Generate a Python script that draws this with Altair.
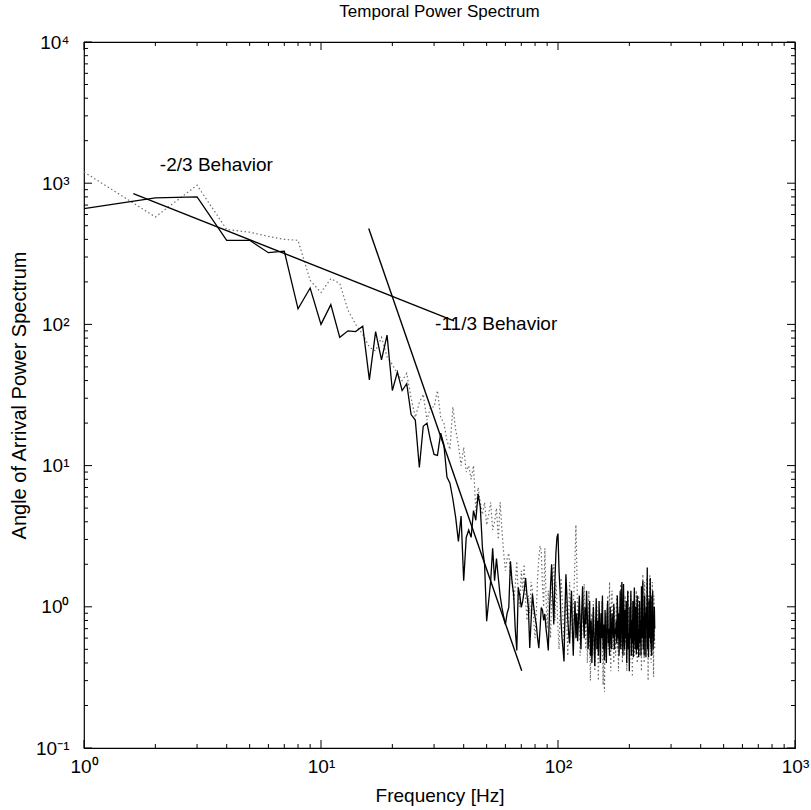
import altair as alt
import pandas as pd

TITLE = "Temporal Power Spectrum"
X_TITLE = "Frequency [Hz]"
Y_TITLE = "Angle of Arrival Power Spectrum"
FONT = "Liberation Sans"

# solid spectrum, one value per Hz starting at 1 Hz
solid_vals = [
    660, 787, 800, 394, 394, 322, 330, 129, 181, 100,
    138, 81, 90, 89, 97, 40.5, 89, 56, 84, 34,
    46, 34, 38, 23, 21, 9.7, 19, 20, 15, 12,
    11.8, 17, 14, 8.3, 7.5, 5.8, 4.3, 2.9, 4.4, 1.53,
    3.1, 3.5, 3.1, 4.8, 4.1, 6.3, 5.1, 2.6, 2.0, 0.79,
    1.1, 1.53, 2.6, 1.53, 2.2, 1.6, 1.2, 0.99, 0.85, 0.75,
    0.9, 0.99, 2.1, 1.5, 1.23, 0.7, 0.49, 1.37, 1.2, 0.99,
    1.1, 1.3, 1.6, 1.2, 0.99, 0.51, 0.8, 1.23, 1.0, 0.85,
    0.75, 0.6, 0.51, 0.7, 0.99, 0.95, 0.8, 0.89, 0.7, 0.6,
    0.49, 0.9, 1.4, 2.0, 1.2, 0.75, 1.5, 2.4, 3.1, 3.3,
    1.8, 1.3, 0.79, 0.6, 0.5, 0.41, 0.9, 1.7, 1.2, 0.8, 0.64,
    0.55, 0.9, 1.3, 0.7, 0.45, 0.8, 1.1, 0.6, 0.9, 0.57, 0.8, 1.2,
    0.75, 0.5, 0.95, 1.4, 0.8, 0.6, 0.99, 0.75, 1.3, 0.85, 0.5, 0.7,
    1.1, 0.45, 0.8, 0.4, 0.65, 1.0, 0.55, 0.38, 0.7, 1.15, 0.5, 0.8,
    0.45, 1.1, 0.7, 0.4, 0.9, 0.6, 1.2, 0.5, 0.75, 0.42, 0.95, 0.6,
    0.4, 0.85, 1.1, 0.55, 0.7, 0.45, 1.0, 0.65, 0.5, 0.9, 0.75, 0.6,
    1.05, 0.5, 0.7, 0.64, 0.8, 0.55, 1.2, 0.6, 0.9, 0.45, 0.75, 1.3,
    0.5, 0.85, 1.5, 0.6, 0.45, 1.45, 0.7, 0.5, 0.95, 0.6, 1.1, 0.4,
    0.8, 1.3, 0.5, 0.65, 0.35, 1.0, 0.6, 1.3, 0.45, 0.8, 0.55, 1.1,
    0.44, 0.9, 1.37, 0.6, 0.5, 1.0, 0.46, 0.8, 1.2, 0.5, 0.7, 0.44,
    0.9, 1.1, 0.55, 0.8, 0.45, 1.4, 0.6, 0.75, 1.53, 0.5, 0.85, 0.45,
    1.2, 0.6, 0.9, 0.44, 1.0, 0.7, 1.9, 0.5, 0.8, 0.44, 1.1, 0.6,
    0.9, 1.6, 0.55, 0.8, 0.45, 1.2, 0.6, 1.3, 0.5, 0.84, 0.57, 1.0, 0.7,
]

# dotted spectrum, one value per Hz starting at 1 Hz
dotted_vals = [
    1200, 577, 968, 470, 450, 420, 400, 394, 205, 168,
    211, 195, 126, 100, 85, 69, 65, 81, 59, 52,
    45, 40, 45, 30, 22, 28, 32, 21, 26, 26,
    34, 22, 20, 15, 13, 26, 18, 14, 10, 13.5,
    9, 10, 8, 10, 4.8, 7, 5.5, 4.5, 5.5, 3.8,
    4.5, 5.5, 3.5, 4, 5, 3, 5.5, 3.5, 2.4, 1.8,
    2.2, 2.4, 1.7, 1.5, 1.1, 1.4, 2.1, 1.2, 1.0, 1.8,
    1.3, 2.0, 1.1, 0.8, 1.2, 0.9, 1.5, 1.3, 0.8, 0.6,
    0.9, 1.6, 2.2, 2.7, 2.5, 1.4, 1.0, 2.6, 1.2, 0.7, 1.3, 0.9,
    0.6, 1.1, 1.8, 2.0, 0.8, 1.5, 1.1, 0.7, 0.5, 0.9, 1.6, 1.2,
    0.8, 0.55, 1.0, 1.3, 0.7, 0.45, 0.9, 1.5, 0.8, 1.2, 0.6, 1.0,
    1.4, 2.2, 3.8, 2.0, 0.8, 0.75, 1.1, 0.45, 0.9, 0.6, 1.25, 0.8,
    1.45, 0.7, 0.5, 1.0, 0.4, 0.8, 1.3, 0.55, 0.3, 0.7, 0.9, 0.45,
    1.1, 0.6, 0.35, 0.8, 0.5, 1.0, 0.7, 0.3, 0.6, 0.9, 0.4, 0.75,
    1.1, 0.5, 0.28, 0.7, 0.25, 0.6, 0.9, 0.45, 0.8, 1.2, 0.5, 0.7,
    1.5, 0.6, 0.35, 0.9, 1.3, 0.5, 0.8, 0.4, 1.0, 0.65, 0.45, 0.9,
    1.2, 0.5, 0.7, 0.35, 1.0, 0.6, 0.8, 1.45, 0.5, 0.7, 0.4, 1.1,
    0.6, 0.9, 0.45, 1.2, 0.55, 0.8, 0.35, 1.0, 0.6, 1.3, 0.5, 0.75,
    0.4, 0.9, 1.2, 0.55, 0.7, 0.32, 1.0, 0.6, 0.85, 0.45, 1.1, 0.5,
    0.8, 1.3, 0.6, 0.4, 0.9, 0.55, 1.2, 0.7, 0.45, 1.0, 0.6, 0.8,
    0.35, 1.1, 0.6, 1.7, 0.5, 0.9, 0.4, 1.5, 0.7, 0.45, 1.0, 0.6,
    1.6, 0.55, 0.8, 0.3, 1.2, 0.6, 0.9, 1.7, 0.5, 0.75, 0.4, 1.1,
    0.6, 1.5, 0.45, 0.9, 0.32, 1.2, 0.7, 0.5,
]

# fitted power-law lines (end points)
fit_f = [1.615, 36.4, 15.9, 70.3]
fit_v = [845, 106, 478, 0.352]
fit_id = ["m2_3", "m2_3", "m11_3", "m11_3"]

# annotations
ann_text = ["-2/3 Behavior", "-11/3 Behavior"]
ann_f = [2.09, 30.3]
ann_v = [1340, 100]

# axis ticks and labels
x_major = [1, 10, 100, 1000]
x_labels = ["10⁰", "10¹", "10²", "10³"]
x_minor = [m * d for d in (1, 10, 100) for m in range(2, 10)]
y_major = [0.1, 1, 10, 100, 1000, 10000]
y_labels = ["10⁻¹", "10⁰", "10¹", "10²", "10³", "10⁴"]
y_minor = [round(m * d, 6) for d in (0.1, 1, 10, 100, 1000) for m in range(2, 10)]

W, H = 711, 706


def label_expr(vals, labels):
    expr = "''"
    for v, l in reversed(list(zip(vals, labels))):
        expr = f"abs(datum.value-{v})<{v * 1e-6}?'{l}':" + expr
    return expr


xs = alt.Scale(type="log", domain=[1, 1000], nice=False)
ys = alt.Scale(type="log", domain=[0.1, 10000], nice=False)

x_axis = alt.Axis(values=x_major, labelExpr=label_expr(x_major, x_labels), ticks=False,
                  domain=False, grid=False, labelFontSize=19, labelPadding=9, labelFlush=False,
                  labelOverlap=False, labelFont=FONT, labelColor="black",
                  title=X_TITLE, titleFont=FONT, titleFontSize=19, titleFontWeight="normal",
                  titleColor="black", titlePadding=10)
y_axis = alt.Axis(values=y_major, labelExpr=label_expr(y_major, y_labels), ticks=False,
                  domain=False, grid=False, labelFontSize=19, labelPadding=15, labelFlush=False,
                  labelOverlap=False, labelFont=FONT, labelColor="black",
                  title=Y_TITLE, titleFont=FONT, titleFontSize=20, titleFontWeight="normal",
                  titleColor="black", titlePadding=6)

X = dict(scale=xs, axis=x_axis)
Y = dict(scale=ys, axis=y_axis)

df_s = pd.DataFrame({"f": list(range(1, len(solid_vals) + 1)), "v": solid_vals})
df_d = pd.DataFrame({"f": list(range(1, len(dotted_vals) + 1)), "v": dotted_vals})
df_fit = pd.DataFrame({"f": fit_f, "v": fit_v, "id": fit_id})
df_ann = pd.DataFrame({"f": ann_f, "v": ann_v, "t": ann_text})

dotted = alt.Chart(df_d).mark_line(color="#6e6e6e", strokeWidth=1.2, strokeDash=[1.5, 2.5]).encode(
    x=alt.X("f:Q", **X), y=alt.Y("v:Q", **Y))
solid = alt.Chart(df_s).mark_line(color="black", strokeWidth=1.3).encode(
    x=alt.X("f:Q", **X), y=alt.Y("v:Q", **Y))
fits = alt.Chart(df_fit).mark_line(color="black", strokeWidth=1.4).encode(
    x=alt.X("f:Q", **X), y=alt.Y("v:Q", **Y), detail="id:N")
ann = alt.Chart(df_ann).mark_text(align="left", baseline="middle", fontSize=19, font=FONT,
                                  color="black").encode(
    x=alt.X("f:Q", **X), y=alt.Y("v:Q", **Y), text="t:N")


def xticks(vals, length):
    d = pd.DataFrame({"f": vals})
    b = alt.Chart(d).mark_rule(color="black", strokeWidth=1).encode(
        x=alt.X("f:Q", **X), y=alt.value(H), y2=alt.value(H - length))
    t = alt.Chart(d).mark_rule(color="black", strokeWidth=1).encode(
        x=alt.X("f:Q", **X), y=alt.value(0), y2=alt.value(length))
    return [b, t]


def yticks(vals, length):
    d = pd.DataFrame({"v": vals})
    l = alt.Chart(d).mark_rule(color="black", strokeWidth=1).encode(
        y=alt.Y("v:Q", **Y), x=alt.value(0), x2=alt.value(length))
    r = alt.Chart(d).mark_rule(color="black", strokeWidth=1).encode(
        y=alt.Y("v:Q", **Y), x=alt.value(W), x2=alt.value(W - length))
    return [l, r]


tick_layers = xticks(x_major, 8) + xticks(x_minor, 4) + yticks(y_major, 8) + yticks(y_minor, 4)

chart = alt.layer(dotted, solid, fits, ann, *tick_layers).properties(
    width=W, height=H,
    title=alt.TitleParams(TITLE, fontSize=17, fontWeight="normal", font=FONT, color="black",
                          anchor="middle", offset=12),
    autosize=alt.AutoSizeParams(type="none"),
    padding={"left": 84, "top": 42, "right": 16, "bottom": 62},
).configure(
    background="white",
    view=alt.ViewConfig(stroke="black", strokeWidth=1.2),
)

chart.save("out.html", embed_options={"renderer": "svg", "actions": False})
